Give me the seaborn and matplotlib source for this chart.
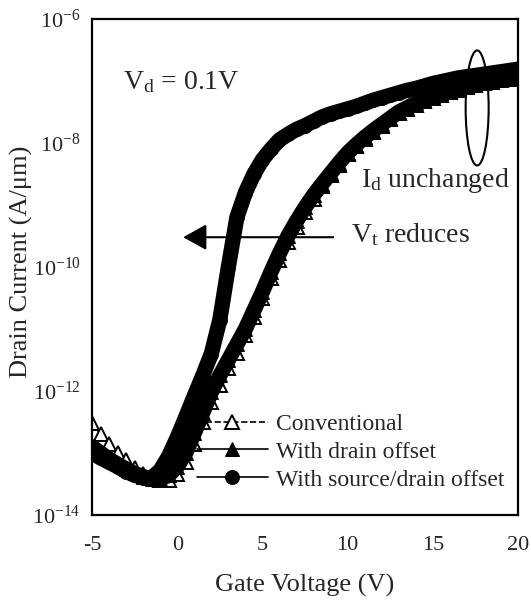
import numpy as np
import matplotlib
matplotlib.use("Agg")
import matplotlib.pyplot as plt
import matplotlib.ticker as mticker
from matplotlib.patches import Ellipse
import seaborn as sns

# gate voltage grid (V)
gate_v = [-5.0, -4.5, -4.0, -3.5, -3.0, -2.5, -2.0, -1.5, -1.0, -0.5,
          0.0, 0.5, 1.0, 1.5, 2.0, 2.5, 3.0, 3.5, 4.0, 4.5,
          5.0, 5.5, 6.0, 6.5, 7.0, 7.5, 8.0, 8.5, 9.0, 9.5,
          10.0, 10.5, 11.0, 11.5, 12.0, 12.5, 13.0, 13.5, 14.0, 14.5,
          15.0, 15.5, 16.0, 16.5, 17.0, 17.5, 18.0, 18.5, 19.0, 19.5, 20.0]

# log10 of drain current (A/um)
log_conv = [-12.52, -12.70, -12.86, -13.00, -13.12, -13.25, -13.34, -13.40, -13.44, -13.44,
            -13.34, -13.15, -12.85, -12.50, -12.18, -11.90, -11.63, -11.38, -11.10, -10.80,
            -10.50, -10.18, -9.88, -9.60, -9.35, -9.12, -8.90, -8.70, -8.52, -8.35,
            -8.18, -8.05, -7.93, -7.82, -7.72, -7.62, -7.52, -7.45, -7.38, -7.32,
            -7.27, -7.22, -7.18, -7.14, -7.10, -7.07, -7.04, -7.01, -6.99, -6.97, -6.95]

log_drain = [-12.90, -13.00, -13.10, -13.18, -13.26, -13.33, -13.38, -13.42, -13.42, -13.36,
             -13.22, -13.00, -12.68, -12.35, -12.02, -11.75, -11.50, -11.25, -11.00, -10.70,
             -10.40, -10.08, -9.78, -9.50, -9.26, -9.04, -8.84, -8.66, -8.49, -8.32,
             -8.16, -8.03, -7.91, -7.80, -7.70, -7.60, -7.50, -7.43, -7.36, -7.30,
             -7.25, -7.20, -7.16, -7.12, -7.08, -7.05, -7.02, -6.99, -6.97, -6.95, -6.93]

log_sd = [-13.00, -13.08, -13.15, -13.22, -13.30, -13.36, -13.40, -13.40, -13.28, -13.05,
          -12.75, -12.42, -12.08, -11.75, -11.40, -10.85, -10.00, -9.20, -8.80, -8.50,
          -8.27, -8.10, -7.95, -7.86, -7.78, -7.72, -7.65, -7.58, -7.53, -7.49,
          -7.45, -7.41, -7.36, -7.31, -7.27, -7.23, -7.19, -7.15, -7.12, -7.08,
          -7.04, -7.01, -6.98, -6.95, -6.93, -6.91, -6.89, -6.87, -6.85, -6.83, -6.81]

labels = ["Conventional", "With drain offset", "With source/drain offset"]

id_conv = 10.0 ** np.array(log_conv)
id_drain = 10.0 ** np.array(log_drain)
id_sd = 10.0 ** np.array(log_sd)

sns.set_style("white")
plt.rcParams["font.family"] = ["Liberation Serif", "DejaVu Serif"]
plt.rcParams["mathtext.fontset"] = "custom"
plt.rcParams["mathtext.rm"] = "Liberation Serif"
plt.rcParams["mathtext.it"] = "Liberation Serif:italic"

fig = plt.figure(figsize=(5.31, 6.04), dpi=100)
ax = fig.add_axes([0.1733, 0.1474, 0.8023, 0.8212])

# conventional (open triangles) underneath
sns.lineplot(x=gate_v, y=id_conv, ax=ax, color="black", linestyle="--", lw=1.2,
             marker="^", markersize=10.5, markerfacecolor="white", markeredgecolor="black",
             markeredgewidth=1.4, label=labels[0])

# thick bands to mimic the densely packed markers
sns.lineplot(x=gate_v, y=id_drain, ax=ax, color="black", lw=11, legend=False)
sns.lineplot(x=gate_v, y=id_sd, ax=ax, color="black", lw=11, legend=False)

sns.lineplot(x=gate_v, y=id_drain, ax=ax, color="black", lw=1.2,
             marker="^", markersize=10.5, markeredgecolor="black", label=labels[1])
sns.lineplot(x=gate_v, y=id_sd, ax=ax, color="black", lw=1.2,
             marker="o", markersize=10, markeredgecolor="black", label=labels[2])

ax.set_yscale("log")
ax.set_xlim(-5, 20)
ax.set_ylim(1e-14, 1e-6)

ax.xaxis.set_major_locator(mticker.MultipleLocator(5))
ax.xaxis.set_minor_locator(mticker.MultipleLocator(1))
ax.yaxis.set_major_locator(mticker.LogLocator(base=100))
ax.yaxis.set_minor_locator(mticker.LogLocator(base=10, subs=np.arange(1, 10)))
ax.yaxis.set_major_formatter(mticker.FuncFormatter(
    lambda v, p: r"$10^{%d}$" % int(round(np.log10(v)))))
ax.yaxis.set_minor_formatter(mticker.NullFormatter())
ax.xaxis.set_major_formatter(mticker.FuncFormatter(lambda v, p: "%d" % v))

ax.tick_params(which="major", direction="inout", length=10, width=1.3,
               labelsize=16, top=False, right=False)
ax.tick_params(axis="x", which="major", pad=10)
ax.tick_params(axis="y", which="major", pad=3)
ax.tick_params(which="minor", direction="in", length=5, width=1.0,
               top=False, right=False)
for s in ax.spines.values():
    s.set_linewidth(1.6)
    s.set_color("black")

ax.set_xlabel("Gate Voltage (V)", fontsize=19, labelpad=14)
ax.set_ylabel("Drain Current (A/\u03bcm)", fontsize=19)
ax.yaxis.set_label_coords(-0.139, 0.51)

# annotations
ax.text(-3.2, 10 ** -7.02, r"V$_\mathregular{d}$ = 0.1V", fontsize=20, va="center")
ax.annotate("", xy=(0.35, 10 ** -9.52), xytext=(9.15, 10 ** -9.52),
            arrowprops=dict(arrowstyle="-|>,head_length=0.72,head_width=0.4",
                            color="black", lw=1.5, mutation_scale=20,
                            shrinkA=0, shrinkB=0))
ax.text(10.2, 10 ** -9.48, r"V$_\mathregular{t}$ reduces", fontsize=20, va="center")
ax.text(10.8, 10 ** -8.61, r"I$_\mathregular{d}$ unchanged", fontsize=20, va="center")
ax.add_patch(Ellipse((0.904, 0.8206), 0.054, 0.232, transform=ax.transAxes,
                     fill=False, edgecolor="black", lw=1.5, zorder=5))

ax.legend(loc="lower left", bbox_to_anchor=(0.246, 0.049), frameon=False,
          fontsize=17, handlelength=3.0, handletextpad=0.35, labelspacing=0.27,
          borderpad=0, borderaxespad=0)

fig.savefig("out.png", dpi=100)
